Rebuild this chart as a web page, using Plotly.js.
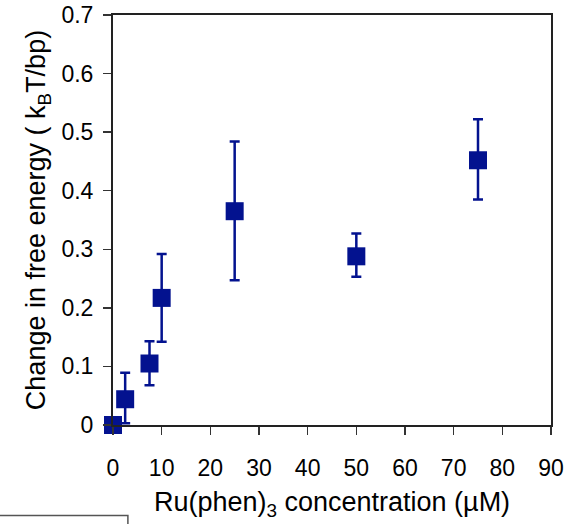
<!DOCTYPE html>
<html>
<head>
<meta charset="utf-8">
<script src="https://cdn.plot.ly/plotly-3.0.1.min.js"></script>
<style>html,body{margin:0;padding:0;background:#fff;}#chart{width:569px;height:524px;}</style>
</head>
<body>
<div id="chart"></div>
<script>
// Ru(phen)3 concentration (µM)
const concentration = [0, 2.5, 7.5, 10, 25, 50, 75];
// Change in free energy (kBT/bp)
const freeEnergyChange = [0, 0.044, 0.105, 0.217, 0.365, 0.288, 0.452];
const errorPlus = [0, 0.045, 0.038, 0.075, 0.119, 0.039, 0.070];
const errorMinus = [0, 0.041, 0.037, 0.075, 0.118, 0.035, 0.067];

const xTickValues = [0, 10, 20, 30, 40, 50, 60, 70, 80, 90];
const xTickLabels = ['0', '10', '20', '30', '40', '50', '60', '70', '80', '90'];
const yTickValues = [0, 0.1, 0.2, 0.3, 0.4, 0.5, 0.6, 0.7];
const yTickLabels = ['0', '0.1', '0.2', '0.3', '0.4', '0.5', '0.6', '0.7'];

const blue = '#03128f';
const fontFam = 'Liberation Sans, Arial, sans-serif';

const trace = {
  x: concentration,
  y: freeEnergyChange,
  type: 'scatter',
  mode: 'markers',
  cliponaxis: false,
  marker: {symbol: 'square', size: 18, color: blue, line: {width: 0}},
  error_y: {
    type: 'data',
    symmetric: false,
    array: errorPlus,
    arrayminus: errorMinus,
    color: blue,
    thickness: 2.5,
    width: 5
  },
  hoverinfo: 'x+y'
};

const layout = {
  width: 569,
  height: 524,
  margin: {l: 113, r: 18, t: 15, b: 99, pad: 0},
  paper_bgcolor: '#ffffff',
  plot_bgcolor: '#ffffff',
  showlegend: false,
  font: {family: fontFam, size: 23, color: '#000'},
  xaxis: {
    range: [0, 90],
    tickvals: xTickValues,
    ticktext: xTickLabels,
    ticks: 'outside',
    ticklen: 8,
    tickwidth: 1.5,
    tickcolor: '#333',
    ticklabelstandoff: 13,
    showline: true,
    linecolor: '#222',
    linewidth: 2,
    mirror: true,
    showgrid: false,
    zeroline: false,
    tickfont: {family: fontFam, size: 23, color: '#000'},
    title: {
      text: 'Ru(phen)<sub>3</sub> concentration (µM)',
      font: {family: fontFam, size: 27, color: '#000'},
      standoff: 13
    }
  },
  yaxis: {
    range: [0, 0.7],
    tickvals: yTickValues,
    ticktext: yTickLabels,
    ticks: 'outside',
    ticklen: 8,
    tickwidth: 1.5,
    tickcolor: '#333',
    ticklabelstandoff: 5,
    showline: true,
    linecolor: '#222',
    linewidth: 2,
    mirror: true,
    showgrid: false,
    zeroline: false,
    tickfont: {family: fontFam, size: 23, color: '#000'},
    title: {
      text: 'Change in free energy ( k<sub>B</sub>T/bp)',
      font: {family: fontFam, size: 27, color: '#000'},
      standoff: 8
    }
  },
  shapes: [{
    type: 'rect',
    xref: 'paper', yref: 'paper',
    x0: -0.3, x1: 0.034, y0: -0.221, y1: -0.3,
    line: {color: '#555', width: 1.5},
    fillcolor: 'rgba(0,0,0,0)'
  }]
};

Plotly.newPlot('chart', [trace], layout, {displayModeBar: false, staticPlot: true});
</script>
</body>
</html>
